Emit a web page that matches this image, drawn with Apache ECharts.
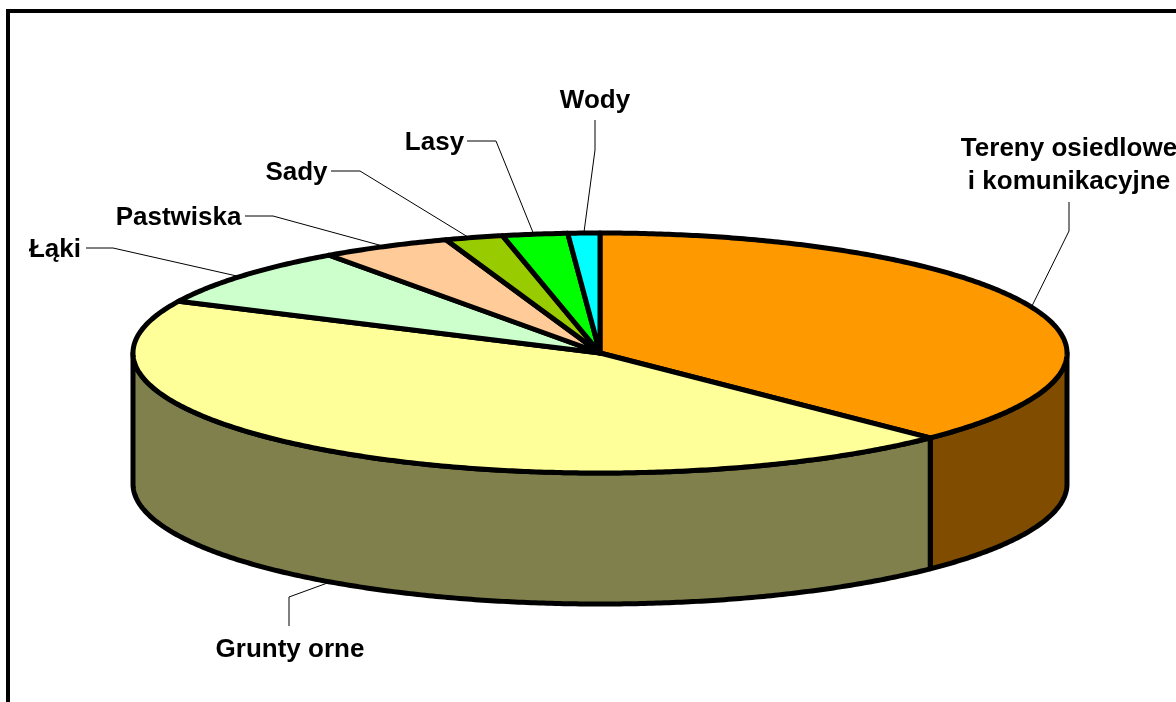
<!DOCTYPE html>
<html>
<head>
<meta charset="utf-8">
<style>html,body{margin:0;padding:0;background:#fff;overflow:hidden}#c{width:1176px;height:702px}</style>
<script src="https://cdn.jsdelivr.net/npm/echarts@6/dist/echarts.min.js"></script>
</head>
<body>
<div id="c"></div>
<script>
// Data
const categories = ['Tereny osiedlowe\ni komunikacyjne', 'Grunty orne', 'Łąki', 'Pastwiska', 'Sady', 'Lasy', 'Wody'];
const shares = [37.5, 44.6, 8.05, 4.5, 2.0, 2.25, 1.1];
// Styles
const topColors = ['#FF9900', '#FFFF99', '#CCFFCC', '#FFCC99', '#99CC00', '#00FF00', '#00FFFF'];
const sideColors = ['#7F4C00', '#80804C', '#668066', '#80664C', '#4C6600', '#008000', '#008080'];
// Layout
const CX = 600, CY = 353, RX = 467, RY = 120, DEPTH = 131, EDGE = 5;
const labelX = [1069, 290, 55, 178.5, 296.5, 434.5, 595];
const labelY = [165, 650, 250, 218, 173, 143, 101];
const elbowX = [1069, 289, 113, 273, 360, 496, 595];
const elbowY = [231, 597, 248, 216, 171, 141, 150];
const lineX  = [1069, 289, 86, 245, 331, 467, 595];
const lineY  = [202, 626, 248, 216, 171, 141, 120];
const leaderShift = [0, 0, -0.55, -0.1, -0.6, -0.15, 0];

const total = shares.reduce((a, b) => a + b, 0);
const starts = [];
shares.reduce((acc, v, i) => { starts[i] = acc; return acc + v; }, 0);
const toAngle = v => v / total * 360;
const pt = (deg, dy) => {
  const r = deg * Math.PI / 180;
  return [CX + RX * Math.sin(r), CY - RY * Math.cos(r) + (dy || 0)];
};
const arc = (a, b, dy) => {
  const n = Math.max(2, Math.ceil(Math.abs(b - a) * 2));
  const out = [];
  for (let i = 0; i <= n; i++) out.push(pt(a + (b - a) * i / n, dy));
  return out;
};
const edgeStyle = fill => ({ fill, stroke: '#000', lineWidth: EDGE, lineJoin: 'round' });
const thin = { fill: null, stroke: '#000', lineWidth: 1 };

const seriesData = categories.map((name, i) => ({ name, value: [i, shares[i]] }));

const sideItem = (params, api) => {
  const i = api.value(0);
  const a = Math.max(toAngle(starts[i]), 90);
  const b = Math.min(toAngle(starts[i] + api.value(1)), 270);
  if (b <= a) return { type: 'group', children: [] };
  return {
    type: 'polygon',
    shape: { points: arc(a, b, 0).concat(arc(b, a, DEPTH)) },
    style: edgeStyle(sideColors[i])
  };
};
const topItem = (params, api) => {
  const i = api.value(0);
  const a = toAngle(starts[i]);
  const b = toAngle(starts[i] + api.value(1));
  return {
    type: 'polygon',
    shape: { points: [[CX, CY]].concat(arc(a, b, 0)) },
    style: edgeStyle(topColors[i])
  };
};
const labelItem = (params, api) => {
  const i = api.value(0);
  const mid = toAngle(starts[i] + api.value(1) / 2) + leaderShift[i];
  const front = mid > 90 && mid < 270;
  const rim = pt(mid, front ? DEPTH : 0);
  return {
    type: 'group',
    children: [
      { type: 'polyline', shape: { points: [[lineX[i], lineY[i]], [elbowX[i], elbowY[i]], rim] }, style: thin },
      { type: 'text', x: labelX[i], y: labelY[i], style: {
          text: categories[i], fill: '#000', align: 'center', verticalAlign: 'middle',
          font: 'bold 26px "Liberation Sans", Arial, sans-serif', lineHeight: 33
      } }
    ]
  };
};

const chart = echarts.init(document.getElementById('c'), null, { renderer: 'canvas' });
chart.setOption({
  animation: false,
  backgroundColor: '#fff',
  tooltip: { show: false },
  graphic: [{
    type: 'rect', silent: true, z: 0,
    shape: { x: 8, y: 11, width: 1400, height: 1000 },
    style: { fill: null, stroke: '#000', lineWidth: 4 }
  }],
  series: [
    { type: 'custom', name: 'side', coordinateSystem: 'none', z: 1, silent: true, renderItem: sideItem, data: seriesData },
    { type: 'custom', name: 'top', coordinateSystem: 'none', z: 2, silent: true, renderItem: topItem, data: seriesData },
    { type: 'custom', name: 'labels', coordinateSystem: 'none', z: 3, silent: true, renderItem: labelItem, data: seriesData }
  ]
});
</script>
</body>
</html>
